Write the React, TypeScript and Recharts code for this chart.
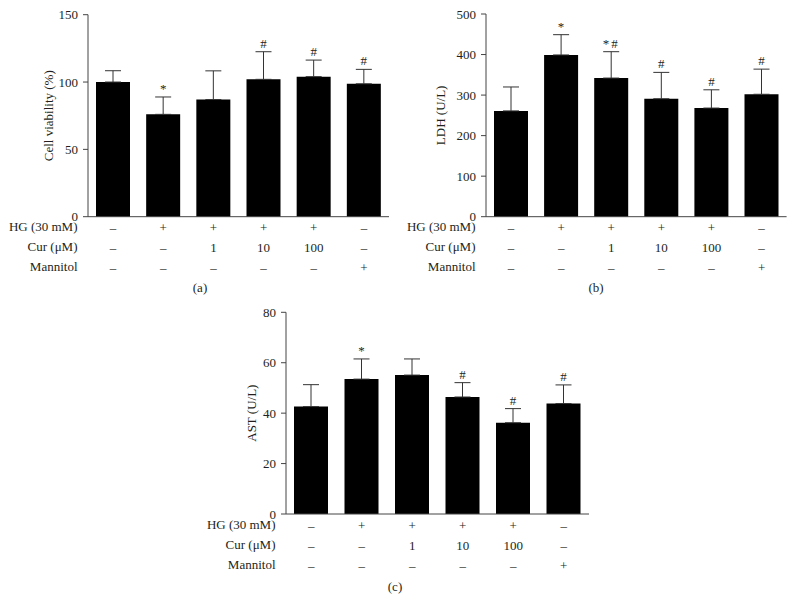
import { BarChart, Bar, XAxis, YAxis, ErrorBar, LabelList } from "recharts";

// Treatment table rows (one entry per group)
const groups = ["g1", "g2", "g3", "g4", "g5", "g6"];
const hgRow = ["–", "+", "+", "+", "+", "–"];
const curRow = ["–", "–", "1", "10", "100", "–"];
const mannitolRow = ["–", "–", "–", "–", "–", "+"];

// (a) Cell viability (%)
const viability = [100, 76, 87, 102, 104, 98.7];
const viabilityErr = [8.4, 12.9, 21.3, 20.5, 12.3, 10.7];
const viabilityMarks = ["", "*", "", "#", "#", "#"];
const viabilityTicks = [0, 50, 100, 150];

// (b) LDH (U/L)
const ldh = [261, 399, 342, 291, 268, 302];
const ldhErr = [59, 50, 65, 65, 45, 62];
const ldhMarks = ["", "*", "*#", "#", "#", "#"];
const ldhTicks = [0, 100, 200, 300, 400, 500];

// (c) AST (U/L)
const ast = [42.6, 53.5, 55.1, 46.4, 36.2, 43.8];
const astErr = [8.7, 8, 6.4, 5.7, 5.6, 7.4];
const astMarks = ["", "*", "", "#", "#", "#"];
const astTicks = [0, 20, 40, 60, 80];

const FONT = "'Liberation Serif', 'Times New Roman', serif";
const TEXT = "#231f20";
const AXIS = "#444";

interface PanelProps {
  left: number;
  top: number;
  yAxisWidth: number;
  margin: { top: number; right: number; bottom: number };
  ticks: number[];
  yLabel: string;
  yLabelOffset: number;
  values: number[];
  errors: number[];
  marks: string[];
  caption: string;
  captionX: number;
  captionY: number;
}

function rowTick(row: string[]) {
  return (props: any) => {
    const { x, y, payload } = props;
    const i = payload?.index ?? groups.indexOf(payload?.value);
    return (
      <text
        x={x}
        y={y + 11}
        textAnchor="middle"
        dominantBaseline="central"
        fontSize={13}
        fontFamily={FONT}
        fill={TEXT}
      >
        {row[i]}
      </text>
    );
  };
}

function Panel(p: PanelProps) {
  const data = groups.map((g, i) => ({
    name: g,
    value: p.values[i],
    err: [0, p.errors[i]],
    mark: p.marks[i],
  }));

  // significance marks sit just above the error bar cap
  const renderMark = (props: any) => {
    const vb = props.viewBox ?? props;
    const { x, y, width, height } = vb;
    const i = props.index;
    const mark = p.marks[i];
    if (!mark) return null;
    const errPx = (p.errors[i] * height) / p.values[i];
    return (
      <text
        x={x + width / 2}
        y={y - errPx - 4}
        textAnchor="middle"
        fontSize={13}
        fontFamily={FONT}
        fill={TEXT}
        letterSpacing={mark.length > 1 ? 2 : 0}
      >
        {mark}
      </text>
    );
  };

  const rowLabel = (text: string) => ({
    value: text,
    position: "left" as const,
    offset: 10.5,
    style: { fontSize: 13, fontFamily: FONT, fill: TEXT },
  });

  const yLabelContent = (props: any) => {
    const vb = props.viewBox;
    const cx = vb.x + vb.width - p.yLabelOffset;
    const cy = vb.y + vb.height / 2;
    return (
      <text
        x={cx}
        y={cy}
        transform={`rotate(-90, ${cx}, ${cy})`}
        textAnchor="middle"
        dominantBaseline="central"
        fontSize={13}
        fontFamily={FONT}
        fill={TEXT}
      >
        {p.yLabel}
      </text>
    );
  };

  const domainMax = p.ticks[p.ticks.length - 1];

  return (
    <>
      <div style={{ position: "absolute", left: p.left, top: p.top }}>
        <BarChart
          width={400}
          height={300}
          data={data}
          margin={{ top: p.margin.top, right: p.margin.right, bottom: p.margin.bottom, left: 0 }}
        >
          <XAxis
            xAxisId="a_hg"
            dataKey="name"
            height={20}
            stroke={AXIS}
            tickLine={false}
            tickSize={0}
            tickMargin={0}
            tick={rowTick(hgRow)}
            label={rowLabel("HG (30 mM)")}
          />
          <XAxis
            xAxisId="b_cur"
            dataKey="name"
            height={20}
            axisLine={false}
            tickLine={false}
            tickSize={0}
            tickMargin={0}
            tick={rowTick(curRow)}
            label={rowLabel("Cur (μM)")}
          />
          <XAxis
            xAxisId="c_man"
            dataKey="name"
            height={20}
            axisLine={false}
            tickLine={false}
            tickSize={0}
            tickMargin={0}
            tick={rowTick(mannitolRow)}
            label={rowLabel("Mannitol")}
          />
          <YAxis
            width={p.yAxisWidth}
            domain={[0, domainMax]}
            ticks={p.ticks}
            interval={0}
            stroke={AXIS}
            tickSize={5}
            tickMargin={5}
            tick={{ fontSize: 13, fontFamily: FONT, fill: TEXT }}
            label={{ content: yLabelContent }}
          />
          <Bar
            xAxisId="a_hg"
            dataKey="value"
            fill="#000"
            barSize={34}
            isAnimationActive={false}
          >
            <ErrorBar
              dataKey="err"
              width={8}
              stroke="#333"
              strokeWidth={1}
              direction="y"
            />
            <LabelList dataKey="mark" content={renderMark} />
          </Bar>
        </BarChart>
      </div>
      <div
        style={{
          position: "absolute",
          left: p.captionX,
          top: p.captionY,
          transform: "translate(-50%, -50%)",
          fontFamily: FONT,
          fontSize: 13,
          color: TEXT,
          whiteSpace: "nowrap",
        }}
      >
        {p.caption}
      </div>
    </>
  );
}

export default function App() {
  return (
    <div
      style={{
        position: "absolute",
        left: 0,
        top: 0,
        width: 796,
        height: 602,
        background: "#fff",
        overflow: "hidden",
      }}
    >
      <Panel
        left={0}
        top={0}
        yAxisWidth={88}
        margin={{ top: 14.7, right: 11, bottom: 23.3 }}
        ticks={viabilityTicks}
        yLabel="Cell viability (%)"
        yLabelOffset={39}
        values={viability}
        errors={viabilityErr}
        marks={viabilityMarks}
        caption="(a)"
        captionX={200}
        captionY={288}
      />
      <Panel
        left={396}
        top={0}
        yAxisWidth={90}
        margin={{ top: 14, right: 9.4, bottom: 23.3 }}
        ticks={ldhTicks}
        yLabel="LDH (U/L)"
        yLabelOffset={45}
        values={ldh}
        errors={ldhErr}
        marks={ldhMarks}
        caption="(b)"
        captionX={596}
        captionY={288}
      />
      <Panel
        left={200}
        top={300}
        yAxisWidth={86}
        margin={{ top: 12.3, right: 11, bottom: 26 }}
        ticks={astTicks}
        yLabel="AST (U/L)"
        yLabelOffset={34}
        values={ast}
        errors={astErr}
        marks={astMarks}
        caption="(c)"
        captionX={395}
        captionY={586.7}
      />
    </div>
  );
}
